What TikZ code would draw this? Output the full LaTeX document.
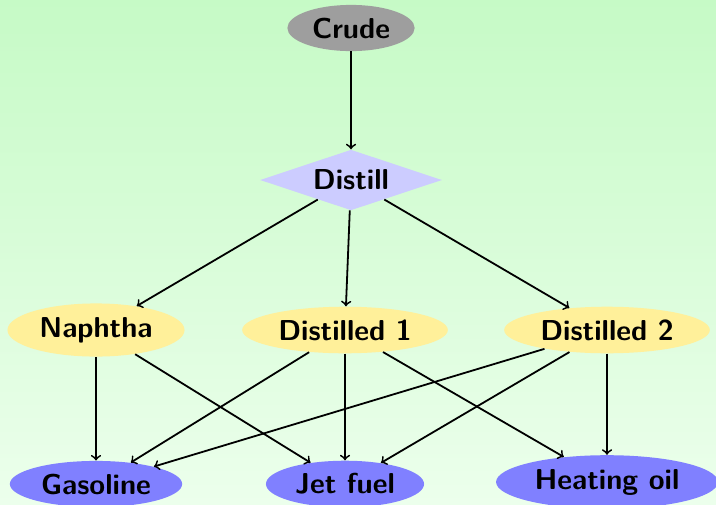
\documentclass[tikz,border=0pt]{standalone}
\usetikzlibrary{shapes.geometric}
\definecolor{crudegray}{RGB}{158,158,158}
\definecolor{distillblue}{RGB}{204,204,255}
\definecolor{midyellow}{RGB}{255,240,154}
\definecolor{prodblue}{RGB}{128,128,255}
\definecolor{bgtop}{RGB}{198,250,198}
\definecolor{bgbot}{RGB}{236,255,236}
\tikzset{
  base/.style={font=\Large\sffamily\bfseries, inner sep=3pt},
  crudenode/.style={base, ellipse, fill=crudegray},
  distillnode/.style={base, diamond, aspect=3, inner sep=2.8pt, fill=distillblue},
  midnode/.style={base, ellipse, fill=midyellow},
  prodnode/.style={base, ellipse, fill=prodblue},
  conn/.style={->, line width=0.9pt}
}
\begin{document}
\begin{tikzpicture}
\shade[top color=bgtop, bottom color=bgbot] (0,0) rectangle (358pt,-252pt);
\useasboundingbox (0,0) rectangle (358pt,-252pt);
\node[crudenode] (crude) at (175.5pt,-14pt) {Crude};
\node[distillnode] (distill) at (175.5pt,-90pt) {Distill};
\node[midnode] (naphtha) at (48pt,-165pt) {Naphtha};
\node[midnode] (d1) at (172.5pt,-165pt) {Distilled 1};
\node[midnode] (d2) at (303.5pt,-165pt) {Distilled 2};
\node[prodnode] (gas) at (48pt,-242pt) {Gasoline};
\node[prodnode] (jet) at (172.5pt,-242pt) {Jet fuel};
\node[prodnode] (heat) at (303.5pt,-241pt) {Heating oil};
\draw[conn] (crude) -- (distill);
\draw[conn] (distill) -- (naphtha);
\draw[conn] (distill) -- (d1);
\draw[conn] (distill) -- (d2);
\draw[conn] (naphtha) -- (gas);
\draw[conn] (naphtha) -- (jet);
\draw[conn] (d1) -- (gas);
\draw[conn] (d1) -- (jet);
\draw[conn] (d1) -- (heat);
\draw[conn] (d2) -- (gas);
\draw[conn] (d2) -- (jet);
\draw[conn] (d2) -- (heat);
\end{tikzpicture}
\end{document}
